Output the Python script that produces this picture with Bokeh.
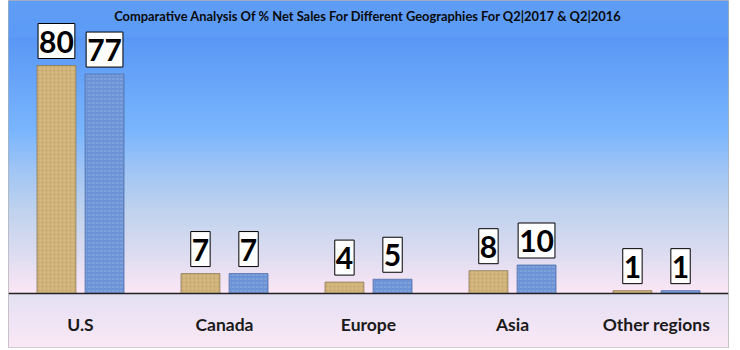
from bokeh.plotting import figure
from bokeh.models import ColumnDataSource, FactorRange, Range1d, Label
from bokeh.transform import dodge
from bokeh.core.properties import value
from bokeh.embed import file_html
from bokeh.resources import INLINE

# ---- data ----
regions = ["U.S", "Canada", "Europe", "Asia", "Other regions"]
q2_2017 = [80, 7, 4, 8, 1]
q2_2016 = [77, 7, 5, 10, 1]
title_text = "Comparative Analysis Of % Net Sales For Different Geographies For Q2|2017 & Q2|2016"

# ---- layout constants (styling) ----
PX_PER_UNIT = 2.85
BASE_PX = 293          # baseline pixel from frame top
FRAME_H = 347

def px_to_y(py):
    return (BASE_PX - py) / PX_PER_UNIT

src = ColumnDataSource(dict(region=regions, a=q2_2017, b=q2_2016,
                            a_lbl=[str(v) for v in q2_2017],
                            b_lbl=[str(v) for v in q2_2016]))

p = figure(width=740, height=350, output_backend="svg", toolbar_location=None,
           x_range=FactorRange(*regions), y_range=Range1d(px_to_y(FRAME_H), px_to_y(0)),
           min_border_left=8, min_border_right=12, min_border_top=0, min_border_bottom=3)
p.border_fill_color = "white"
p.outline_line_color = "#b0b0b0"
p.grid.visible = False
p.yaxis.visible = False

# ---- background gradient (styling only) ----
stops = [(0, "#5e9df6"), (36, "#5d9bf6"), (37, "#5997f5"), (130, "#7ab5fd"),
         (170, "#a0c5f4"), (210, "#bfd2ee"), (250, "#dadbf0"), (292, "#fbe6f5"),
         (294, "#e3e0f3"), (347, "#fbe8f6")]

def hx(c):
    return tuple(int(c[i:i + 2], 16) for i in (1, 3, 5))

def color_at(py):
    for (p0, c0), (p1, c1) in zip(stops[:-1], stops[1:]):
        if p0 <= py <= p1:
            t = 0 if p1 == p0 else (py - p0) / (p1 - p0)
            a, b = hx(c0), hx(c1)
            return "#%02x%02x%02x" % tuple(int(round(a[i] + (b[i] - a[i]) * t)) for i in range(3))
    return stops[-1][1]

tops, bots, cols = [], [], []
for py in range(0, FRAME_H):
    tops.append(px_to_y(py))
    bots.append(px_to_y(py + 1.6))
    cols.append(color_at(py + 0.5))
p.quad(left=0, right=len(regions), top=tops, bottom=bots, fill_color=cols, line_color=None)

# ---- bars ----
p.vbar(x=dodge("region", -0.167, range=p.x_range), top="a", bottom=0, width=0.27, source=src,
       fill_color="#d2b67c", line_color="#8a7a5a", line_width=0.8,
       hatch_pattern="dot", hatch_color="#a88e5a", hatch_alpha=0.45, hatch_scale=4)
p.vbar(x=dodge("region", 0.167, range=p.x_range), top="b", bottom=0, width=0.27, source=src,
       fill_color="#6b93d5", line_color="#4f6fa8", line_width=0.8,
       hatch_pattern="horizontal_dash", hatch_color="#b8cdf0", hatch_alpha=0.45, hatch_scale=4)

# ---- value labels ----
for field, off in (("a", -0.167), ("b", 0.167)):
    p.text(x=dodge("region", off, range=p.x_range), y=field, text=field + "_lbl", source=src,
           y_offset=-7, text_align="center", text_baseline="bottom",
           text_font=value("Lato"), text_font_style="bold", text_font_size="30px",
           text_color="black", background_fill_color="white",
           border_line_color="black", border_line_width=1,
           padding=dict(left=1, right=1, top=7, bottom=6))

# ---- x axis at the baseline ----
p.xaxis.fixed_location = 0
p.xaxis.axis_line_color = "#222222"
p.xaxis.axis_line_width = 1.5
p.xaxis.major_tick_line_color = None
p.xaxis.minor_tick_line_color = None
p.xaxis.major_label_standoff = 14
p.xaxis.major_label_text_font = "Lato"
p.xaxis.major_label_text_font_style = "bold"
p.xaxis.major_label_text_font_size = "17.5px"
p.xaxis.major_label_text_color = "#1a1a1a"

# ---- title ----
p.add_layout(Label(x=2.497, y=px_to_y(15), text=title_text, text_align="center",
                   text_baseline="middle", text_font="Lato", text_font_style="bold",
                   text_font_size="12.9px", text_color="#0a0a0a"))

open("out.html", "w").write(file_html(p, INLINE))
